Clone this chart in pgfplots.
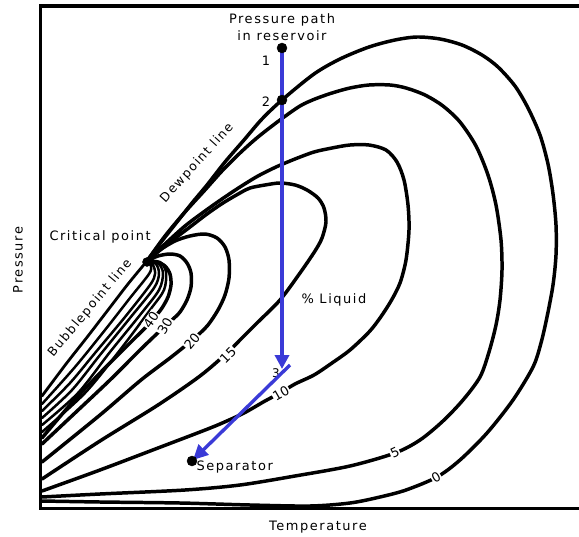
\documentclass[border=0pt]{standalone}
\usepackage{fontspec}
\setmainfont{DejaVu Sans}[LetterSpace=12]
\newfontfamily\rotfont{DejaVu Sans}
\usepackage{pgfplots}
\pgfplotsset{compat=1.18}
\usetikzlibrary{arrows.meta}
\definecolor{pathblue}{RGB}{58,58,215}
\pgfplotsset{
  iso/.style={black, line width=3.5pt, smooth, tension=0.5, no markers, line cap=round, line join=round},
  bub/.style={black, line width=2.5pt, smooth, tension=0.5, no markers, line cap=round, line join=round},
}
\tikzset{lab/.style={fill=white, inner sep=0.8pt, font=\rotfont\fontsize{13}{15}\selectfont}}
\begin{document}
\fontsize{13}{15}\selectfont
\begin{tikzpicture}
\begin{axis}[
  scale only axis, width=538.5bp, height=502.5bp,
  xmin=40.5, xmax=579, ymin=6, ymax=508.5, y dir=reverse,
  axis x line*=box, axis y line*=left,
  axis line style={line width=3.8pt, line cap=rect},
  xtick=\empty, ytick=\empty,
  clip=false,
]
% 0 % liquid (dewpoint line)
\addplot[iso] coordinates {(147,261) (162,241) (177,222) (192,203) (207,185) (225,162) (244,140) (262,119) (282,100) (314,74) (340,59) (369,47) (395,40) (417,37) (440,39) (462,45) (482,55) (498,67) (515,86) (528,108) (540,135) (548,164) (553,194) (556,225) (556,255) (553,285) (547,317) (541,343) (533,367) (513,400) (487,433) (460,460) (437,477) (406,490) (380,497) (350,503) (310,506) (250,505) (180,503) (100,502) (42,501)};
% 5
\addplot[iso] coordinates {(147,261) (165,236) (185,212) (205,190) (222,171) (240,153) (258,137) (280,120) (300,106) (315,99) (332,93) (350,88) (369,85) (390,85) (406,88) (425,95) (443,106) (460,122) (476,146) (488,175) (496,205) (501,240) (502,270) (500,300) (496,325) (489,352) (480,377) (463,400) (443,421) (420,440) (395,453) (350,466) (295,476) (240,485) (185,490) (100,494) (42,497)};
% 10
\addplot[iso] coordinates {(147,261) (165,244) (185,226) (205,211) (222,199) (240,187) (258,176) (276,167) (295,159) (314,152) (332,148) (350,145) (369,145) (386,150) (397,162) (404,180) (408,205) (409,230) (406,260) (400,283) (391,301) (380,318) (369,332) (350,350) (332,363) (314,375) (295,384) (280,393) (265,401) (244,413) (220,424) (200,432) (158,448) (100,470) (42,491)};
% 15
\addplot[iso] coordinates {(147,261) (165,246) (190,227) (207,214) (223,203) (240,193) (250,188) (265,185) (280,183) (295,185) (307,190) (318,198) (324,208) (326,222) (322,238) (315,251) (300,273) (280,300) (257,323) (240,340) (227,353) (200,376) (158,405) (100,441) (42,479)};
% 20
\addplot[iso] coordinates {(147,261) (160,250) (175,241) (190,236) (205,234) (217,238) (225,247) (229,260) (229,278) (225,295) (218,310) (208,325) (197,336) (190,342) (170,358) (141,380) (100,415) (42,462)};
% 30
\addplot[iso] coordinates {(147,261) (158,256) (170,254) (180,256) (187,263) (191,273) (191,287) (187,300) (180,312) (172,320) (163,328) (140,350) (110,380) (75,413) (42,444)};
% 40
\addplot[iso] coordinates {(147,261) (157,262) (165,266) (170,274) (171,285) (168,297) (162,308) (155,317) (149,324) (130,343) (100,373) (70,405) (42,438)};
% 50 - 100 (bubblepoint bundle)
\addplot[bub] coordinates {(147,261) (160,262) (166,272) (164,290) (150,310) (120,350) (85,393) (42,432)};
\addplot[bub] coordinates {(147,261) (158,263) (163,273) (159,290) (140,315) (110,352) (78,393) (42,425)};
\addplot[bub] coordinates {(147,261) (156,264) (159,274) (154,288) (130,318) (100,355) (72,390) (42,418)};
\addplot[bub] coordinates {(147,261) (153,265) (155,274) (150,285) (125,317) (95,353) (70,383) (42,411)};
\addplot[bub] coordinates {(147,261) (151,266) (149,274) (130,298) (105,330) (75,367) (42,404)};
\addplot[iso, line width=2.8pt] coordinates {(147,261) (128,284) (108,310) (88,336) (66,364) (42,396)};

% line labels
\node[lab, rotate=55] at (axis cs:151,320) {40};
\node[lab, rotate=60] at (axis cs:165,326) {30};
\node[lab, rotate=50] at (axis cs:192,341) {20};
\node[lab, rotate=45] at (axis cs:228,355) {15};
\node[lab, rotate=30] at (axis cs:281,393) {10};
\node[lab, rotate=25] at (axis cs:395,453) {5};
\node[lab, rotate=30] at (axis cs:436,477) {0};
\node[font=\rotfont\fontsize{12}{14}\selectfont] at (axis cs:276,373) {3};

% pressure path
\addplot[pathblue, line width=3.4pt, -{Triangle[length=14bp,width=14bp]}] coordinates {(282,48) (282,369)};
\addplot[pathblue, line width=3.4pt, -{Triangle[length=15bp,width=14bp]}] coordinates {(290,365) (193,460)};
\addplot[only marks, mark=*, mark size=5bp, black] coordinates {(282,48) (282,100) (192,461)};
\addplot[only marks, mark=*, mark size=4.5bp, black] coordinates {(147,262)};

% texts
\node at (axis cs:282,20) {Pressure path};
\node at (axis cs:282,36) {in reservoir};
\node at (axis cs:266,61) {1};
\node at (axis cs:266,102) {2};
\node[anchor=west] at (axis cs:45,237) {Critical point};
\node[rotate=48, font=\fontsize{12.5}{15}\selectfont] at (axis cs:197,163) {Dewpoint line};
\node[rotate=50, font=\fontsize{12.5}{15}\selectfont] at (axis cs:90,308) {Bubblepoint line};
\node[anchor=west] at (axis cs:297,300) {\% Liquid};
\node[anchor=west] at (axis cs:192,467) {Separator};
\node at (axis cs:318,527) {Temperature};
\node[rotate=90] at (axis cs:18,260) {Pressure};

\coordinate (A) at (axis cs:0,537);
\coordinate (B) at (axis cs:579,0);
\end{axis}
\pgfresetboundingbox
\path (A) rectangle (B);
\end{tikzpicture}
\end{document}
